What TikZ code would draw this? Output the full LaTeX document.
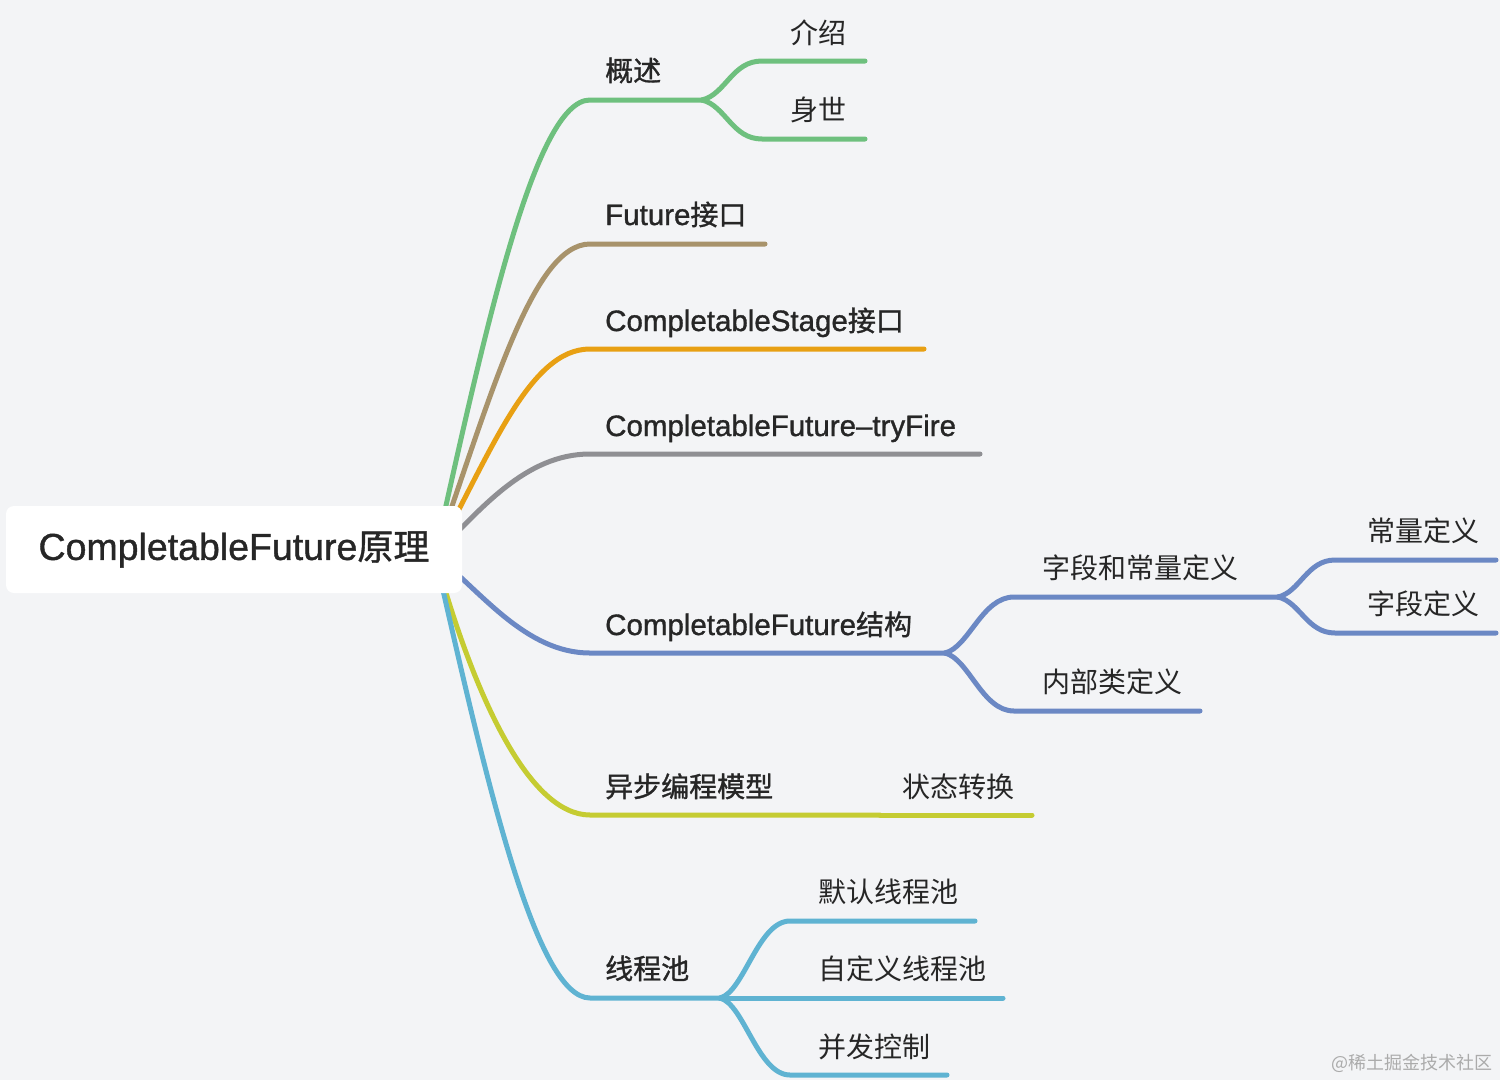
\documentclass[tikz,border=0pt]{standalone}
\usepackage{fontspec}
\setmainfont{Liberation Sans}
\newfontfamily\cjk{Noto Sans CJK SC}
\newfontfamily\cjkm{Noto Sans CJK SC}[FakeBold=1.1]
\newfontfamily\latm{Liberation Sans}[FakeBold=1.1]
\newcommand\zhM{\cjkm\fontsize{28}{30}\selectfont}
\newcommand\zhR{\cjk\fontsize{28}{30}\selectfont}
\newcommand\zhRoot{\cjkm\fontsize{36}{38}\selectfont}
\newcommand\enM{\latm\fontsize{29.5}{31}\selectfont}
\newcommand\enRoot{\latm\fontsize{37.5}{39}\selectfont}
\newcommand\zhWM{\cjk\fontsize{18}{20}\selectfont}
\definecolor{bg}{HTML}{F3F4F6}
\definecolor{cgreen}{HTML}{6EC07E}
\definecolor{cbrown}{HTML}{A8936B}
\definecolor{corange}{HTML}{E8A013}
\definecolor{cgray}{HTML}{8F8F93}
\definecolor{cblue}{HTML}{6B88C4}
\definecolor{cyel}{HTML}{C5CC32}
\definecolor{ccyan}{HTML}{5FB3D2}
\definecolor{ink}{HTML}{262626}
\definecolor{wm}{HTML}{ABABAB}
\begin{document}
\begin{tikzpicture}[x=1pt,y=-1pt,
  edge/.style={line width=5pt, line cap=round, line join=round},
  lone/.style={anchor=base west, inner sep=0pt, text=ink, font=\enM},
  lonezh/.style={anchor=base west, inner sep=0pt, text=ink, font=\zhM},
  ltwo/.style={anchor=base west, inner sep=0pt, text=ink, font=\zhR},
  rootbox/.style={fill=white, rounded corners=8pt, minimum width=456pt, minimum height=87pt, inner sep=0pt, text=ink}]
\useasboundingbox (0,0) rectangle (1500,1080);
\fill[bg] (0,0) rectangle (1500,1080);
% coordinates
\coordinate (rc) at (435,555);
\coordinate (g0) at (590,100); \coordinate (gf) at (702,100);
\coordinate (g1a) at (762,61); \coordinate (g1b) at (865,61);
\coordinate (g2a) at (762,139); \coordinate (g2b) at (865,139);
\coordinate (b0) at (590,244); \coordinate (b1) at (765,244);
\coordinate (o0) at (590,349); \coordinate (o1) at (924,349);
\coordinate (gr0) at (590,454); \coordinate (gr1) at (980,454);
\coordinate (bl0) at (590,653); \coordinate (blf) at (945,653);
\coordinate (bl1a) at (1014,597); \coordinate (blf2) at (1278,597);
\coordinate (bl11a) at (1335,560); \coordinate (bl11b) at (1496,560);
\coordinate (bl12a) at (1335,633); \coordinate (bl12b) at (1496,633);
\coordinate (bl2a) at (1014,711); \coordinate (bl2b) at (1200,711);
\coordinate (ye0) at (590,815); \coordinate (yef) at (880,815); \coordinate (ye1) at (1032,815);
\coordinate (cy0) at (590,998); \coordinate (cyf) at (720,998);
\coordinate (cy1a) at (790,921); \coordinate (cy1b) at (975,921);
\coordinate (cy2b) at (1003,998);
\coordinate (cy3a) at (790,1075); \coordinate (cy3b) at (947,1075);
% edges
\draw[edge,cgreen] (rc) .. controls (485,330) and (535,100) .. (g0) -- (gf);
\draw[edge,cgreen] (gf) .. controls +(24,-6) and +(-30,0) .. (g1a) -- (g1b);
\draw[edge,cgreen] (gf) .. controls +(24,6) and +(-30,0) .. (g2a) -- (g2b);
\draw[edge,cbrown] (rc) .. controls (490,400) and (532,244) .. (b0) -- (b1);
\draw[edge,corange] (rc) .. controls (492,450) and (530,349) .. (o0) -- (o1);
\draw[edge,cgray] (rc) .. controls (480,510) and (525,454) .. (gr0) -- (gr1);
\draw[edge,cblue] (rc) .. controls (480,590) and (525,653) .. (bl0) -- (blf);
\draw[edge,cblue] (blf) .. controls +(24,-6) and +(-32,0) .. (bl1a) -- (blf2);
\draw[edge,cblue] (blf) .. controls +(24,6) and +(-32,0) .. (bl2a) -- (bl2b);
\draw[edge,cblue] (blf2) .. controls +(22,-5) and +(-28,0) .. (bl11a) -- (bl11b);
\draw[edge,cblue] (blf2) .. controls +(22,5) and +(-28,0) .. (bl12a) -- (bl12b);
\draw[edge,cyel] (rc) .. controls (475,700) and (530,815) .. (ye0) -- (yef);
\draw[edge,cyel] (yef) -- (ye1);
\draw[edge,ccyan] (rc) .. controls (485,775) and (535,998) .. (cy0) -- (cyf);
\draw[edge,ccyan] (cyf) .. controls +(24,-6) and +(-32,0) .. (cy1a) -- (cy1b);
\draw[edge,ccyan] (cyf) -- (cy2b);
\draw[edge,ccyan] (cyf) .. controls +(24,6) and +(-32,0) .. (cy3a) -- (cy3b);
% root
\node[rootbox] (root) at (234,549.5) {{\enRoot CompletableFuture}{\zhRoot 原理}};
% labels
\node[lonezh] (n1) at (605,81) {概述};
\node[ltwo] (n11) at (790,43) {介绍};
\node[ltwo] (n12) at (790,120) {身世};
\node[lone] (n2) at (605,225) {Future{\zhM 接口}};
\node[lone] (n3) at (605,331) {CompletableStage{\zhM 接口}};
\node[lone] (n4) at (605,436) {CompletableFuture–tryFire};
\node[lone] (n5) at (605,635) {CompletableFuture{\zhM 结构}};
\node[ltwo] (n51) at (1042,578) {字段和常量定义};
\node[ltwo] (n511) at (1367,541) {常量定义};
\node[ltwo] (n512) at (1367,614) {字段定义};
\node[ltwo] (n52) at (1042,692) {内部类定义};
\node[lonezh] (n6) at (605,797) {异步编程模型};
\node[ltwo] (n61) at (902,797) {状态转换};
\node[lonezh] (n7) at (605,979) {线程池};
\node[ltwo] (n71) at (818,902) {默认线程池};
\node[ltwo] (n72) at (818,979) {自定义线程池};
\node[ltwo] (n73) at (818,1057) {并发控制};
\node[anchor=base east, inner sep=0pt, text=wm, font=\zhWM] (wmk) at (1493,1069) {@稀土掘金技术社区};
\end{tikzpicture}
\end{document}
